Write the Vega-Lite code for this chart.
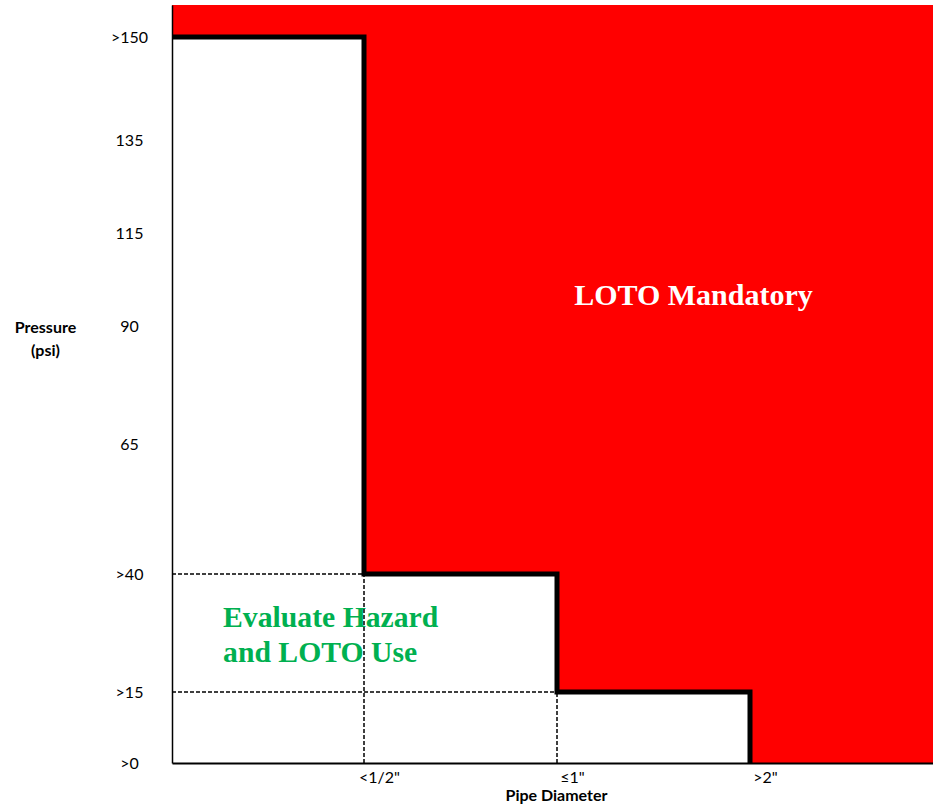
{
  "$schema": "https://vega.github.io/schema/vega-lite/v6.json",
  "autosize": "none",
  "width": 761,
  "height": 758,
  "padding": {"left": 172, "top": 5, "right": 0, "bottom": 47},
  "background": "white",
  "config": {"view": {"stroke": null}},
  "datasets": {
    "zones": [
      {"zone": "mandatory", "x": 0, "x2": 3, "y": 0, "y2": 160},
      {"zone": "evaluate", "x": 0, "x2": 0.5, "y": 0, "y2": 150},
      {"zone": "evaluate", "x": 0.5, "x2": 1, "y": 0, "y2": 40},
      {"zone": "evaluate", "x": 1, "x2": 2, "y": 0, "y2": 15}
    ],
    "guides": [
      {"x": 0, "x2": 0.5, "y": 40, "y2": 40},
      {"x": 0, "x2": 1, "y": 15, "y2": 15},
      {"x": 0.5, "x2": 0.5, "y": 0, "y2": 40},
      {"x": 1, "x2": 1, "y": 0, "y2": 15}
    ],
    "boundary": [
      {"i": 0, "x": 0, "y": 150},
      {"i": 1, "x": 0.5, "y": 150},
      {"i": 2, "x": 0.5, "y": 40},
      {"i": 3, "x": 1, "y": 40},
      {"i": 4, "x": 1, "y": 15},
      {"i": 5, "x": 2, "y": 15},
      {"i": 6, "x": 2, "y": 0}
    ],
    "mandatoryLabel": [
      {"text": ["LOTO Mandatory"], "x": 1.707, "y": 95.6}
    ],
    "evaluateLabel": [
      {"text": ["Evaluate Hazard", "and LOTO Use"], "x": 0.133, "y": 28.8}
    ]
  },
  "layer": [
    {
      "data": {"name": "zones"},
      "mark": {"type": "rect", "stroke": null},
      "encoding": {
        "x": {
          "field": "x", "type": "quantitative",
          "scale": {"domain": [0, 0.5, 1, 2, 3], "range": [0, 192, 385, 578, 761], "nice": false, "zero": false},
          "axis": {
            "values": [0.5, 1, 2],
            "labelExpr": "datum.value == 0.5 ? '<1/2\"' : datum.value == 1 ? '≤1\"' : '>2\"'",
            "ticks": false, "grid": false,
            "domainColor": "black", "domainWidth": 2,
            "labelFont": "Lato", "labelFontSize": 16, "labelColor": "black",
            "labelAlign": "center", "labelOffset": 15, "labelPadding": 6, "labelBaseline": "top",
            "title": "Pipe Diameter",
            "titleFont": "Lato", "titleFontSize": 16, "titleFontWeight": "bold", "titleColor": "black",
            "titleX": 384, "titleY": 32, "titleBaseline": "middle", "titleAlign": "center",
            "zindex": 1
          }
        },
        "x2": {"field": "x2"},
        "y": {
          "field": "y", "type": "quantitative",
          "scale": {"domain": [0, 15, 40, 65, 90, 115, 135, 150, 160], "range": [758, 687, 569, 439, 321, 228, 135, 32, 0], "nice": false, "zero": false},
          "axis": {
            "values": [0, 15, 40, 65, 90, 115, 135, 150],
            "labelExpr": "(datum.value == 0 || datum.value == 15 || datum.value == 40 || datum.value == 150) ? '>' + datum.value : '' + datum.value",
            "ticks": false, "grid": false,
            "domainColor": "black", "domainWidth": 1.5,
            "labelFont": "Lato", "labelFontSize": 16, "labelColor": "black",
            "labelAlign": "center", "labelPadding": 43, "labelBaseline": "middle",
            "title": ["Pressure", "(psi)"],
            "titleFont": "Lato", "titleFontSize": 16, "titleFontWeight": "bold", "titleColor": "black",
            "titleAngle": 0, "titleX": -127, "titleY": 322, "titleAlign": "center", "titleBaseline": "middle",
            "titleLineHeight": 23,
            "zindex": 1
          }
        },
        "y2": {"field": "y2"},
        "color": {
          "field": "zone", "type": "nominal",
          "scale": {"domain": ["mandatory", "evaluate"], "range": ["#FF0000", "#FFFFFF"]},
          "legend": null
        }
      }
    },
    {
      "data": {"name": "mandatoryLabel"},
      "mark": {"type": "text", "font": "Liberation Serif", "fontWeight": "bold", "fontSize": 30, "lineHeight": 35, "baseline": "alphabetic", "align": "center", "color": "#FFFFFF"},
      "encoding": {
        "x": {"field": "x", "type": "quantitative"},
        "y": {"field": "y", "type": "quantitative"},
        "text": {"field": "text"}
      }
    },
    {
      "data": {"name": "evaluateLabel"},
      "mark": {"type": "text", "font": "Liberation Serif", "fontWeight": "bold", "fontSize": 29.7, "lineHeight": 35, "baseline": "alphabetic", "align": "left", "color": "#00B050"},
      "encoding": {
        "x": {"field": "x", "type": "quantitative"},
        "y": {"field": "y", "type": "quantitative"},
        "text": {"field": "text"}
      }
    },
    {
      "data": {"name": "guides"},
      "mark": {"type": "rule", "color": "black", "strokeWidth": 1.5, "strokeDash": [4, 2]},
      "encoding": {
        "x": {"field": "x", "type": "quantitative"},
        "x2": {"field": "x2"},
        "y": {"field": "y", "type": "quantitative"},
        "y2": {"field": "y2"}
      }
    },
    {
      "data": {"name": "boundary"},
      "mark": {"type": "line", "color": "black", "strokeWidth": 5, "strokeJoin": "miter", "strokeCap": "butt"},
      "encoding": {
        "x": {"field": "x", "type": "quantitative"},
        "y": {"field": "y", "type": "quantitative"},
        "order": {"field": "i", "type": "quantitative"}
      }
    }
  ]
}
